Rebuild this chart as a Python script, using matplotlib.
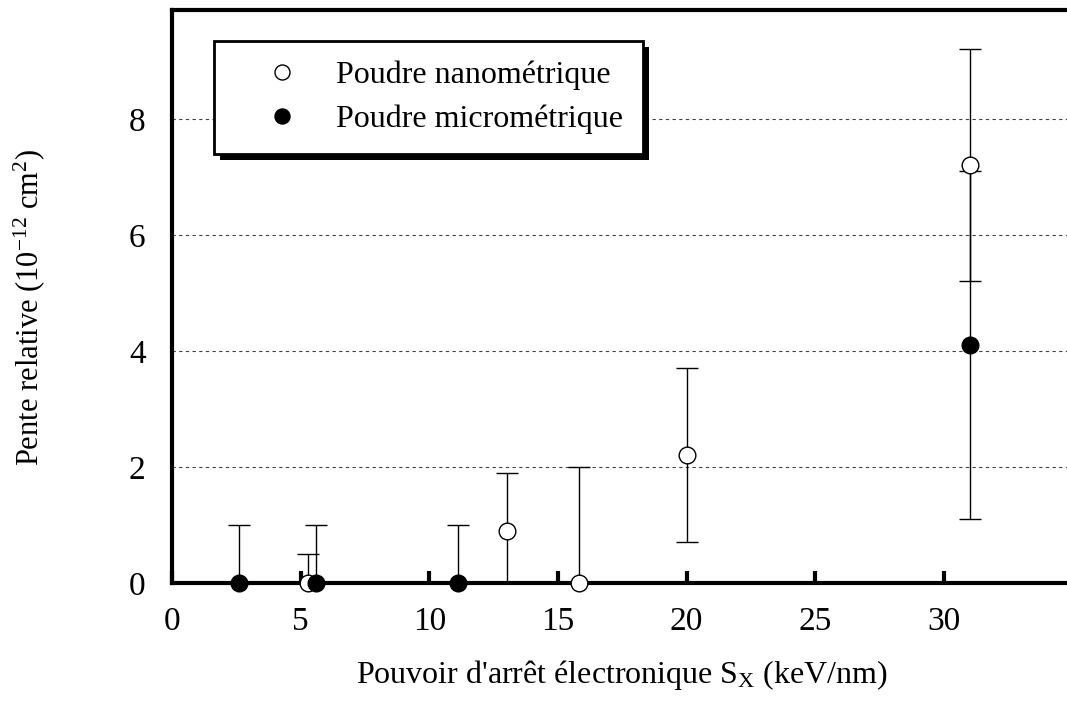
import matplotlib
matplotlib.use("Agg")
import matplotlib.pyplot as plt
from matplotlib.patches import Rectangle
from matplotlib.transforms import IdentityTransform

plt.rcParams['font.family'] = ['Liberation Serif', 'DejaVu Serif']
plt.rcParams['mathtext.fontset'] = 'custom'
plt.rcParams['mathtext.rm'] = 'Liberation Serif'
plt.rcParams['mathtext.it'] = 'Liberation Serif:italic'
plt.rcParams['axes.unicode_minus'] = False

# Data
nano_x = [5.3, 13.0, 15.8, 20.0, 31.0]
nano_y = [0.0, 0.9, 0.0, 2.2, 7.2]
nano_err = [0.5, 1.0, 2.0, 1.5, 2.0]

micro_x = [2.6, 5.6, 11.1, 31.0]
micro_y = [0.0, 0.0, 0.0, 4.1]
micro_err = [1.0, 1.0, 1.0, 3.0]

xticks = [0, 5, 10, 15, 20, 25, 30]
yticks = [0, 2, 4, 6, 8]
label_nano = "Poudre nanométrique"
label_micro = "Poudre micrométrique"

W, H = 1067, 702
fig = plt.figure(figsize=(W / 100, H / 100), dpi=100)
ax = fig.add_axes([172 / W, (H - 583) / H, 900.6 / W, 573 / H])

ax.set_xlim(0, 35)
ax.set_ylim(0, 9.88)

# error bars
for xs, ys, es in [(nano_x, nano_y, nano_err), (micro_x, micro_y, micro_err)]:
    ax.errorbar(xs, ys, yerr=es, fmt='none', ecolor='black',
                elinewidth=1, capsize=11.5 * 0.72, capthick=1, zorder=3)

# markers
ax.plot(nano_x, nano_y, 'o', ms=12, mfc='white', mec='black', mew=1,
        clip_on=False, zorder=5, label=label_nano)
ax.plot(micro_x, micro_y, 'o', ms=12, mfc='black', mec='black', mew=1,
        clip_on=False, zorder=6, label=label_micro)

# grid
for yv in yticks[1:]:
    ax.axhline(yv, color='#444444', lw=0.8, ls=(0, (3, 3)), zorder=1)

for side in ['left', 'top', 'bottom', 'right']:
    ax.spines[side].set_linewidth(3)
ax.spines['bottom'].set_zorder(4)

ax.set_xticks(xticks)
ax.set_yticks(yticks)
ax.tick_params(axis='x', direction='in', length=9, width=3, labelsize=24, pad=17)
ax.tick_params(axis='y', length=0, labelsize=24, pad=19)

ax.set_xlabel(r"Pouvoir d'arrêt électronique S$_\mathregular{X}$ (keV/nm)",
              fontsize=23, labelpad=15)
ax.set_ylabel(r"Pente relative (10$^\mathregular{-12}$ cm$^\mathregular{2}$)",
              fontsize=22)
ax.yaxis.set_label_coords(-0.139, 0.48)

leg = ax.legend(loc='upper left', bbox_to_anchor=(0.047, 0.946), fontsize=23,
                frameon=True, fancybox=False, edgecolor='black',
                facecolor='white', framealpha=1,
                handletextpad=0.2, borderpad=0.62, labelspacing=0.45,
                handlelength=3.0, borderaxespad=0, markerscale=0.9)
leg.get_frame().set_linewidth(2)
leg.set_zorder(10)

fig.canvas.draw()
bb = leg.get_frame().get_window_extent()
shadow = Rectangle((bb.x0 + 6, bb.y0 - 6), bb.width, bb.height,
                   transform=IdentityTransform(), facecolor='black',
                   edgecolor='none', zorder=9)
ax.add_artist(shadow)

fig.savefig("out.png", dpi=100)
